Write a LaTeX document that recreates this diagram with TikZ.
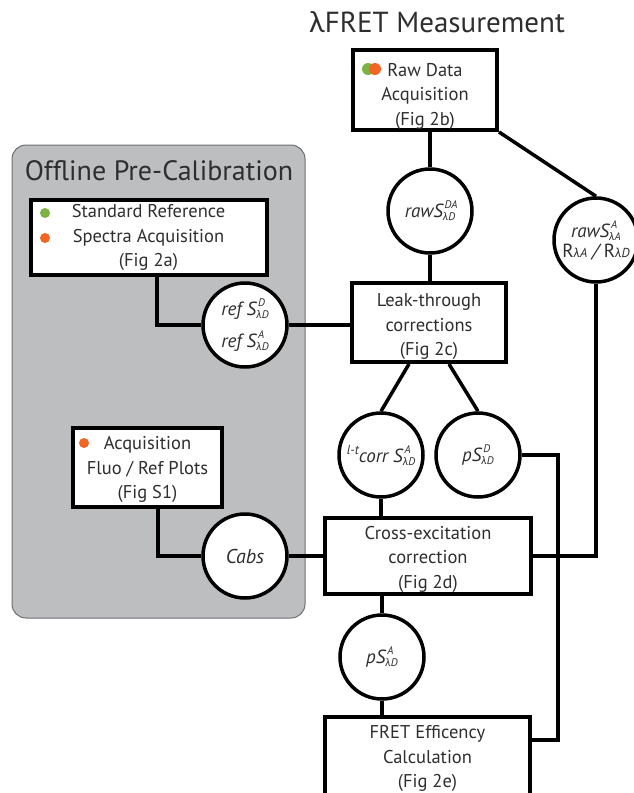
\documentclass[tikz,border=0pt]{standalone}
\usepackage{fontspec}
\setmainfont{PT Sans}
\newfontfamily\grkfont{Lato}
\usetikzlibrary{calc}
\definecolor{calgray}{HTML}{BCBEC0}
\definecolor{calline}{HTML}{6D6E71}
\definecolor{dotgreen}{HTML}{7CB342}
\definecolor{dotorange}{HTML}{F26522}
\definecolor{txtgray}{HTML}{2E2E30}
\newcommand{\lmb}{{\grkfont λ}}
\newcommand{\ssc}[2]{\rlap{\raisebox{9pt}{\fontsize{11}{11}\selectfont\itshape\,#1}}\raisebox{-3pt}{\fontsize{11}{11}\selectfont\itshape #2}}
\newcommand{\pushdown}[1]{\rule{0pt}{#1}}

\begin{document}
\begin{tikzpicture}[x=1pt,y=-1pt,
    every node/.style={text=txtgray},
    procbox/.style={draw=black,line width=4pt,fill=white,align=center,inner sep=0pt,font=\fontsize{18.5}{24.5}\selectfont},
    datacirc/.style={circle,draw=black,line width=3.5pt,fill=white,minimum size=84pt,inner sep=0pt,align=center,font=\fontsize{19}{21}\selectfont\itshape},
    link/.style={line width=3.5pt,black}]
    \useasboundingbox (0,0) rectangle (634,793);

    % offline panel
    \draw[calline,fill=calgray,line width=1pt,rounded corners=14pt] (12,145) rectangle (305,618);
    \node[anchor=base,font=\fontsize{28}{32}\selectfont] (offtitle) at (159,180) {Offline Pre-Calibration};
    \node[anchor=base,font=\fontsize{29}{34}\selectfont] (meastitle) at (437,32) {\lmb FRET Measurement};

    % boxes
    \node[procbox,minimum width=144pt,minimum height=80pt] (raw) at (425,90) {\pushdown{26pt}Raw Data\\Acquisition\\(Fig 2b)};
    \node[procbox,minimum width=236pt,minimum height=75pt] (ref) at (148.5,237.5) {Standard Reference\\Spectra Acquisition\\(Fig 2a)};
    \node[procbox,minimum width=149pt,minimum height=79pt] (acq) at (147.5,467.5) {\pushdown{18pt}Acquisition\\Fluo / Ref Plots\\(Fig S1)};
    \node[procbox,minimum width=154pt,minimum height=79pt] (leak) at (429,322.5) {\pushdown{22pt}Leak-through\\corrections\\(Fig 2c)};
    \node[procbox,minimum width=206pt,minimum height=76pt] (cross) at (428,556) {\pushdown{20pt}Cross-excitation\\correction\\(Fig 2d)};
    \node[procbox,minimum width=205pt,minimum height=83pt] (fret) at (427.5,758.5) {FRET Efficency\\Calculation\\(Fig 2e)};

    % data circles
    \node[datacirc] (rawDA) at (430,211) {rawS\ssc{DA}{\lmb D}};
    \node[datacirc] (rawA) at (596,240) {rawS\ssc{A}{\lmb A}\\[-1pt]{\upshape R}{\fontsize{13}{13}\selectfont\lmb A} / {\upshape R}{\fontsize{13}{13}\selectfont\lmb D}};
    \node[datacirc] (refS) at (245,325) {ref S\ssc{D}{\lmb D}\\[11pt]ref S\ssc{A}{\lmb D}};
    \node[datacirc] (itc) at (381,455) {\raisebox{8pt}{\fontsize{13}{13}\selectfont l-t}corr S\ssc{A}{\lmb D}};
    \node[datacirc] (pSD) at (478,455) {pS\ssc{D}{\lmb D}};
    \node[datacirc,font=\fontsize{20}{22}\selectfont\itshape] (cabs) at (245,556) {Cabs};
    \node[datacirc] (pSA) at (382,657) {pS\ssc{A}{\lmb D}};

    % dots
    \fill[dotgreen] (368,69) circle (6);
    \fill[dotorange] (375,69) circle (6);
    \fill[dotgreen] (45,213) circle (5);
    \fill[dotorange] (45,238) circle (5);
    \fill[dotorange] (84,443) circle (5);

    % connectors
    \draw[link] (raw.south -| rawDA) -- (rawDA.north);
    \draw[link] (raw.south east) -- (rawA.north);
    \draw[link] (rawDA.south) -- (rawDA.south |- leak.north);
    \draw[link] ([xshift=8.5pt]ref.south) |- (refS.west);
    \draw[link] (refS.east) -- (refS.east -| leak.west);
    \draw[link] ([xshift=-20pt]leak.south) -- (itc.north);
    \draw[link] ([xshift=20pt]leak.south) -- (pSD.north);
    \draw[link] (itc.south) -- (itc.south |- cross.north);
    \coordinate (sidebus) at (558,740);
    \draw[link] (pSD.east) -| (sidebus) -- (sidebus -| fret.east);
    \draw[link] (rawA.south) |- (cross.east);
    \draw[link] ([xshift=10.5pt]acq.south) |- (cabs.west);
    \draw[link] (cabs.east) -- (cross.west);
    \draw[link] (pSA.north |- cross.south) -- (pSA.north);
    \draw[link] (pSA.south) -- (pSA.south |- fret.north);
\end{tikzpicture}
\end{document}
